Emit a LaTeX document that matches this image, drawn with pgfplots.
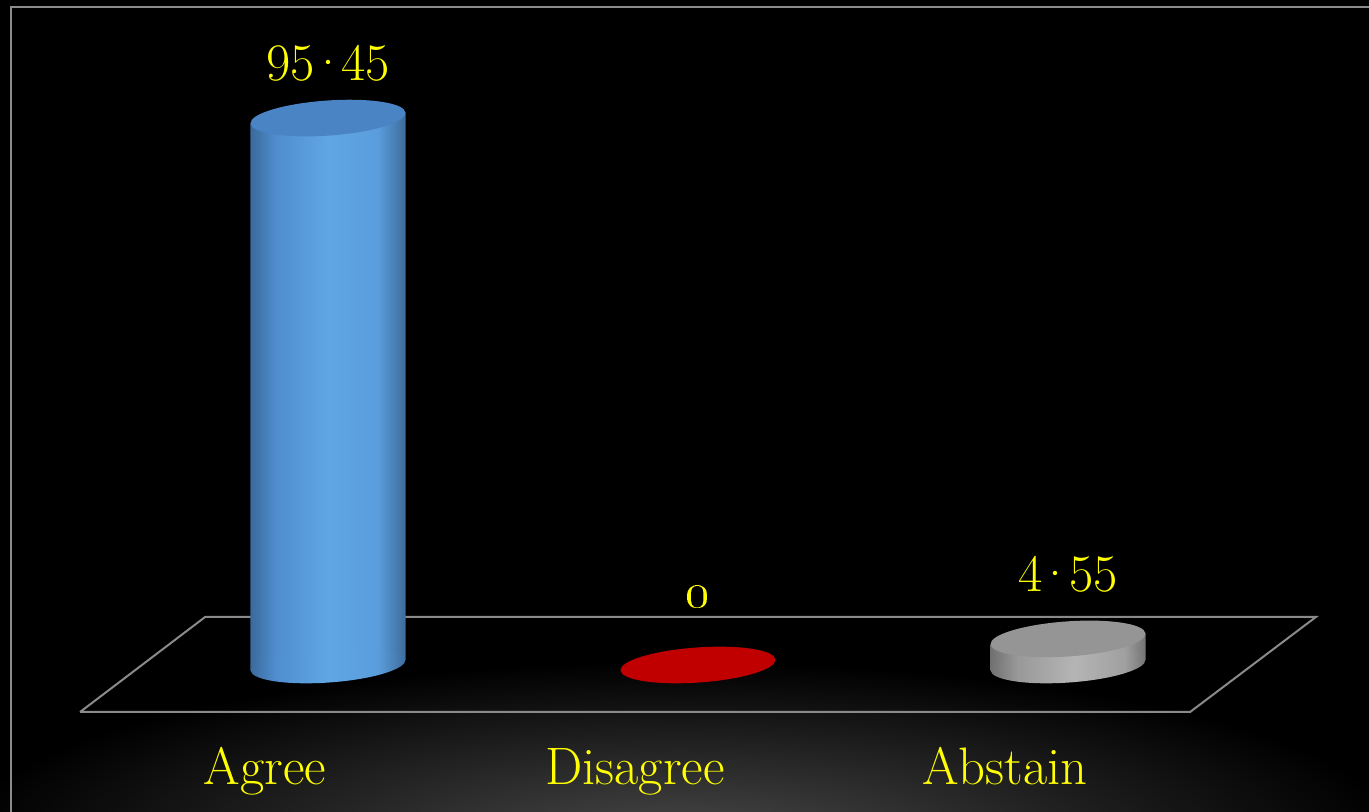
\documentclass[border=0pt]{standalone}
\usepackage{pgfplots}
\pgfplotsset{compat=1.18}
\definecolor{labyellow}{HTML}{FFFF00}
\definecolor{framegray}{HTML}{8C8C8C}
\definecolor{floorgray}{HTML}{8A8A8A}
\definecolor{capblue}{HTML}{4A84C4}
\definecolor{capgray}{HTML}{959595}
\definecolor{discred}{HTML}{C00000}
\definecolor{bA}{HTML}{3A6A9A}
\definecolor{bB}{HTML}{4F8DCF}
\definecolor{bC}{HTML}{60A6E4}
\definecolor{bD}{HTML}{5A9DDC}
\definecolor{bE}{HTML}{3D6C9C}
\definecolor{gA}{HTML}{707070}
\definecolor{gB}{HTML}{999999}
\definecolor{gC}{HTML}{B5B5B5}
\definecolor{gD}{HTML}{A0A0A0}
\definecolor{gE}{HTML}{747474}
\pgfdeclarehorizontalshading{bluebody}{100bp}{color(0bp)=(bA); color(25bp)=(bA); color(33bp)=(bB); color(50bp)=(bC); color(66bp)=(bD); color(75bp)=(bE); color(100bp)=(bE)}
\pgfdeclarehorizontalshading{graybody}{100bp}{color(0bp)=(gA); color(25bp)=(gA); color(34bp)=(gB); color(52bp)=(gC); color(68bp)=(gD); color(75bp)=(gE); color(100bp)=(gE)}
% ellipse caps: half-width 0.775cm, tilt about 4 degrees
\newcommand{\capellipse}{\pgfpathellipse{\pgfpointorigin}{\pgfpoint{0.775cm}{0.054cm}}{\pgfpoint{-0.0123cm}{0.175cm}}}
\pgfdeclareplotmark{bluebottom}{\capellipse\pgfshadepath{bluebody}{0}\pgfusepath{discard}}
\pgfdeclareplotmark{graybottom}{\capellipse\pgfshadepath{graybody}{0}\pgfusepath{discard}}
\pgfdeclareplotmark{bluetop}{\capellipse\pgfsetfillcolor{capblue}\pgfusepathqfill}
\pgfdeclareplotmark{graytop}{\capellipse\pgfsetfillcolor{capgray}\pgfusepathqfill}
\pgfdeclareplotmark{redtop}{\capellipse\pgfsetfillcolor{discred}\pgfusepathqfill}
\newcommand{\lblfont}{\fontsize{15}{18}\selectfont}
% half bar width in x units (77.5px / 370px) and tilt offset in y units (5.4px / 5.73px)
\pgfmathsetmacro{\hw}{0.2095}
\pgfmathsetmacro{\tl}{0.94}
\begin{document}
\begin{tikzpicture}
% background
\fill[black] (0,0) rectangle (13.69,8.12);
\begin{scope}
\clip (0,0) rectangle (13.69,8.12);
\shade[inner color=black!72!white, outer color=black] (6.8,-0.25) ellipse (7.2 and 1.75);
\draw[framegray, line width=0.02cm] (0.11,-0.1) -- (0.11,8.05) -- (14,8.05);
\end{scope}
\begin{axis}[
  at={(0,0)}, anchor=south west,
  scale only axis, width=13.69cm, height=8.12cm,
  xmin=-0.88649, xmax=2.81351, ymin=-25.654, ymax=116.056,
  clip=false,
  axis line style={draw=none},
  major tick length=0pt,
  ytick=\empty,
  xtick={0,1,2},
  xticklabels={Agree,Disagree,Abstain},
  xticklabel style={text=labyellow, font=\lblfont, anchor=base, yshift=0.27cm, xshift=-0.63cm, inner sep=0pt},
  nodes near coords,
  every node near coord/.append style={text=labyellow, font=\lblfont, anchor=base, inner sep=0pt},
  /pgf/number format/.cd, fixed, fixed zerofill, precision=2, use period, set decimal separator={\hbox{\kern-1.6pt\textperiodcentered\kern-1.6pt}}, assume math mode=true,
]
% floor
\addplot[floorgray, line width=0.02cm, no marks, nodes near coords={}] coordinates {(-0.670,-8.20) (2.330,-8.20) (2.670,8.38) (-0.332,8.38) (-0.670,-8.20)};
% Agree: value 95.45
\addplot[only marks, mark=bluebottom, nodes near coords={}] coordinates {(0,0)};
\addplot[draw=none, shading=bluebody, shading angle=0, no marks, nodes near coords={}] coordinates {(-\hw,-\tl) (\hw,\tl) (\hw,95.45+\tl) (-\hw,95.45-\tl) (-\hw,-\tl)};
\addplot[only marks, mark=bluetop, every node near coord/.append style={yshift=0.38cm}] coordinates {(0,95.45)};
% Disagree: value 0
\addplot[only marks, mark=redtop, nodes near coords={\oldstylenums{0}}, every node near coord/.append style={yshift=0.57cm}] coordinates {(1,0)};
% Abstain: value 4.55
\addplot[only marks, mark=graybottom, nodes near coords={}] coordinates {(2,0)};
\addplot[draw=none, shading=graybody, shading angle=0, no marks, nodes near coords={}] coordinates {(2-\hw,-\tl) (2+\hw,\tl) (2+\hw,4.55+\tl) (2-\hw,4.55-\tl) (2-\hw,-\tl)};
\addplot[only marks, mark=graytop, every node near coord/.append style={yshift=0.47cm}] coordinates {(2,4.55)};
\end{axis}
\pgfresetboundingbox
\useasboundingbox (0,0) rectangle (13.69,8.12);
\end{tikzpicture}
\end{document}
